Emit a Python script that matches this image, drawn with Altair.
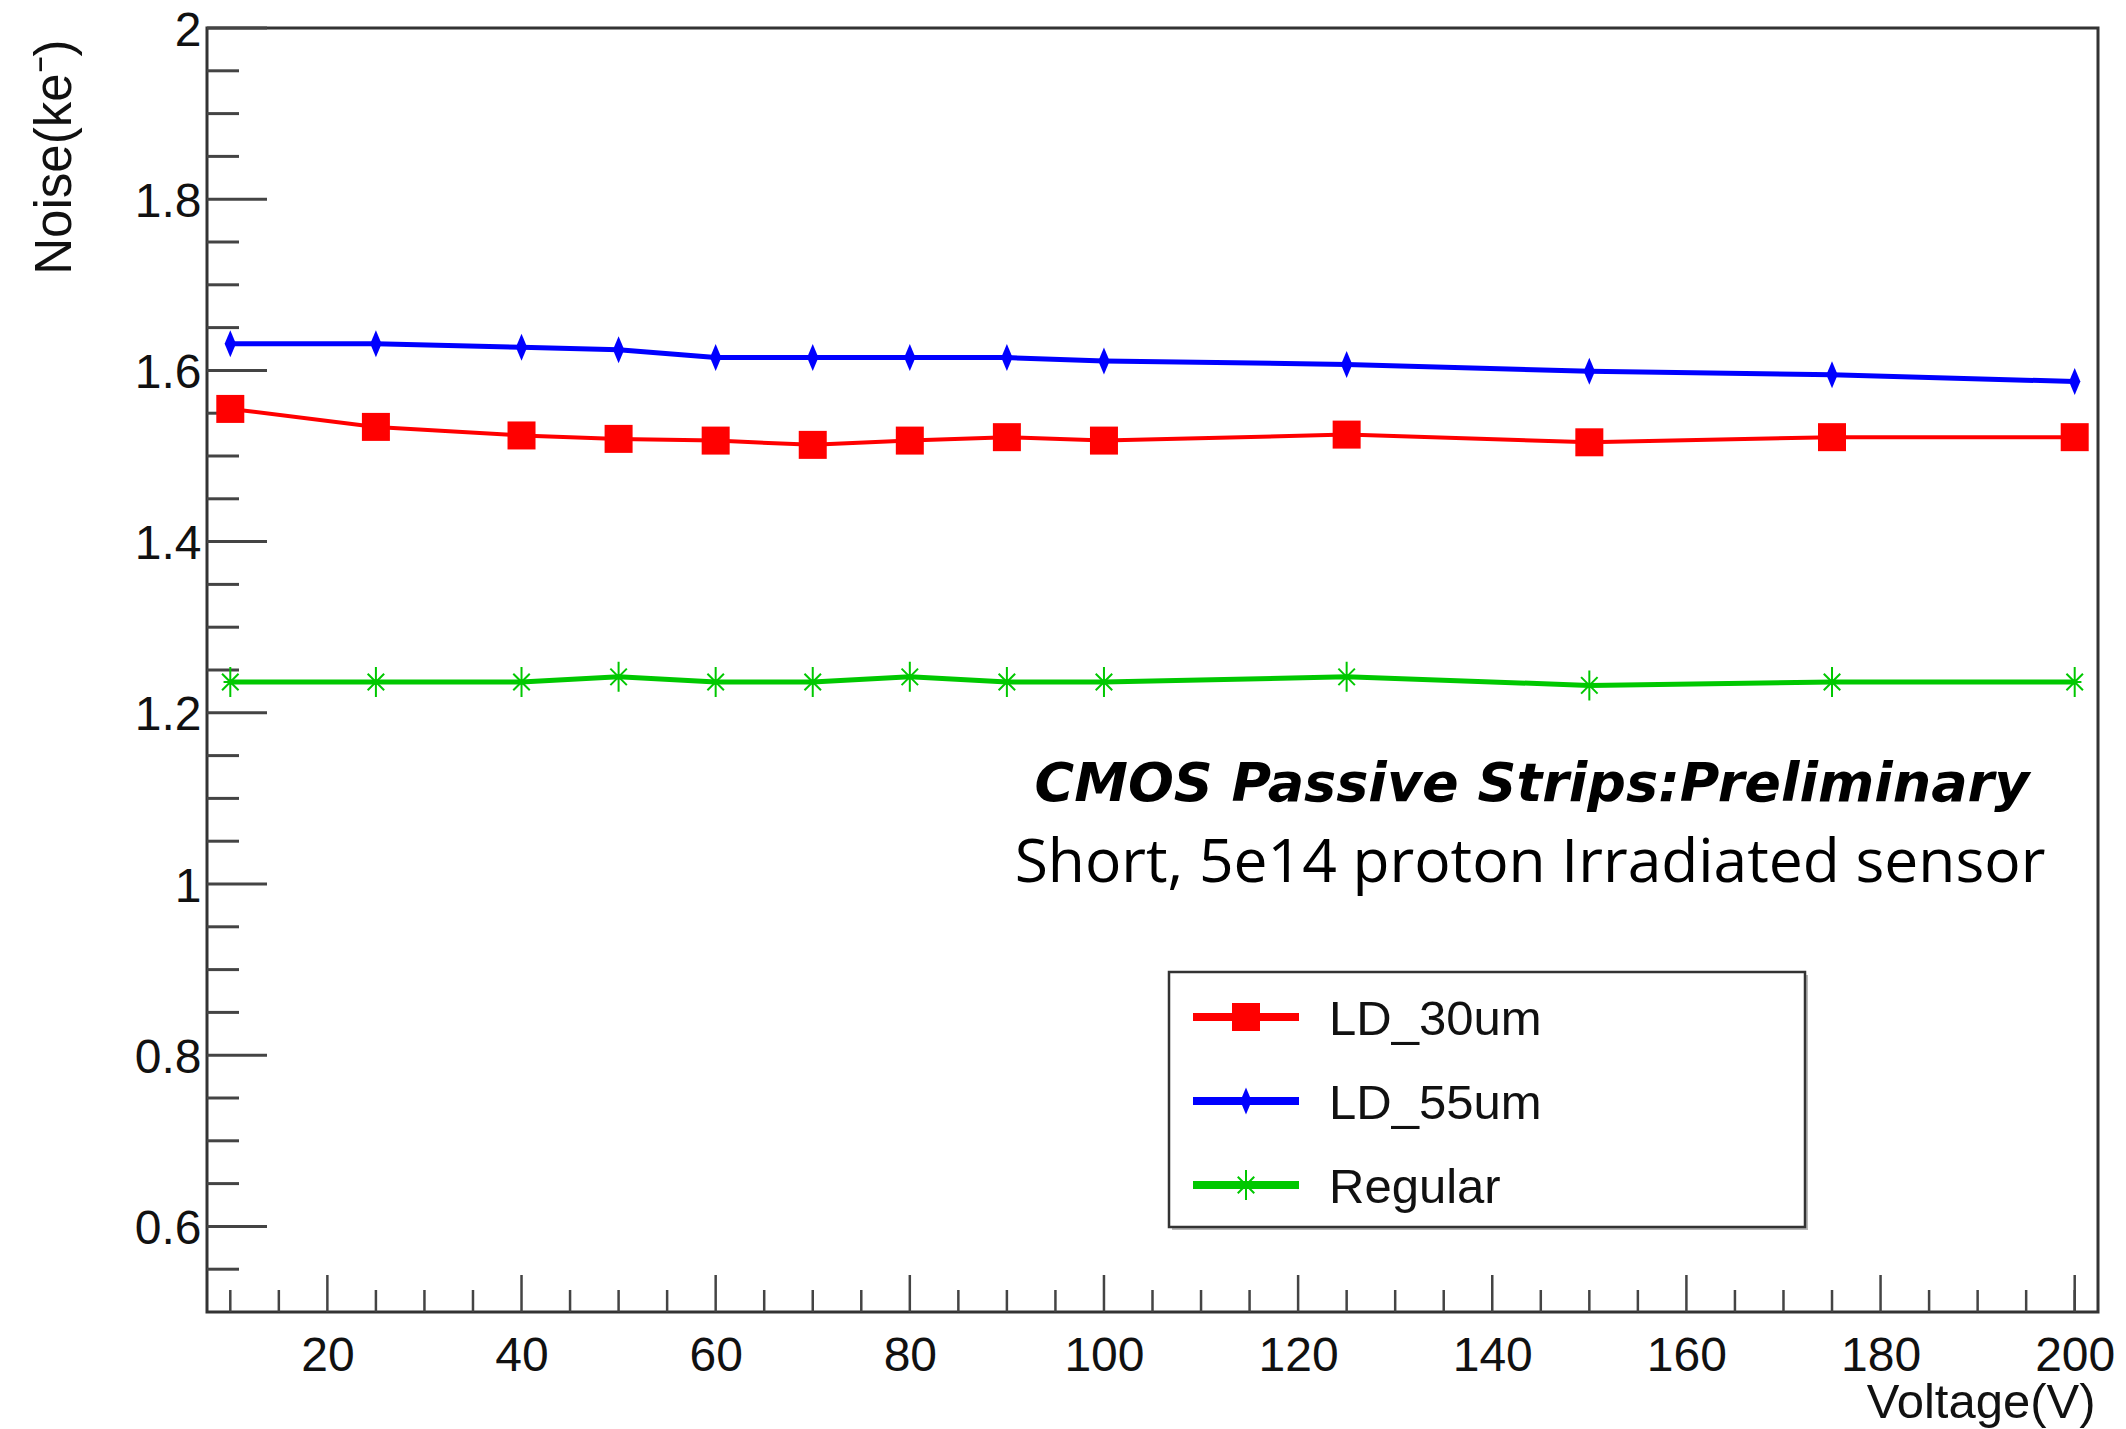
import altair as alt
import pandas as pd

# ---------------- data ----------------
voltage = [10, 25, 40, 50, 60, 70, 80, 90, 100, 125, 150, 175, 200]
ld_30um = [1.555, 1.534, 1.524, 1.520, 1.518, 1.513, 1.518, 1.522, 1.518, 1.525, 1.516, 1.522, 1.522]
ld_55um = [1.631, 1.631, 1.627, 1.624, 1.615, 1.615, 1.615, 1.615, 1.611, 1.607, 1.599, 1.595, 1.587]
regular = [1.236, 1.236, 1.236, 1.242, 1.236, 1.236, 1.242, 1.236, 1.236, 1.242, 1.232, 1.236, 1.236]

series_names = ["LD_30um", "LD_55um", "Regular"]
series_colors = ["#ff0000", "#0000ff", "#00c800"]

x_major = [20, 40, 60, 80, 100, 120, 140, 160, 180, 200]
x_minor = [10, 15, 25, 30, 35, 45, 50, 55, 65, 70, 75, 85, 90, 95, 105, 110, 115,
           125, 130, 135, 145, 150, 155, 165, 170, 175, 185, 190, 195, 200]
y_major = [0.6, 0.8, 1.0, 1.2, 1.4, 1.6, 1.8, 2.0]
y_minor = [0.55, 0.65, 0.7, 0.75, 0.85, 0.9, 0.95, 1.05, 1.1, 1.15, 1.25, 1.3, 1.35,
           1.45, 1.5, 1.55, 1.65, 1.7, 1.75, 1.85, 1.9, 1.95]

title_line1 = "CMOS  Passive Strips:Preliminary"
title_line2 = "Short, 5e14 proton Irradiated sensor"
x_title = "Voltage(V)"
y_title = "Noise(ke\u207b)"

# ---------------- layout / style ----------------
W, H = 1891, 1284
FONT = "Liberation Sans"
INK = "#111111"
AXC = "#444444"

rows = []
for name, vals in zip(series_names, [ld_30um, ld_55um, regular]):
    for v, n in zip(voltage, vals):
        rows.append({"series": name, "voltage": v, "noise": n})
df = pd.DataFrame(rows)

xscale = alt.Scale(domain=[7.6, 202.4], nice=False, zero=False)
yscale = alt.Scale(domain=[0.5, 2.0], nice=False, zero=False)

xaxis = alt.Axis(values=x_major, format="d", ticks=False, domain=False, grid=False,
                 labelFont=FONT, labelFontSize=48, labelColor=INK, labelPadding=20,
                 labelFlush=False, labelOverlap=False,
                 title=x_title, titleFont=FONT, titleFontSize=49, titleFontWeight="normal",
                 titleColor=INK, titleX=1888, titleY=105, titleAlign="right",
                 titleBaseline="alphabetic")
yaxis = alt.Axis(values=y_major, format="~g", ticks=False, domain=False, grid=False,
                 labelFont=FONT, labelFontSize=48, labelColor=INK, labelPadding=6,
                 labelOffset=3, labelFlush=False, labelOverlap=False,
                 title=y_title, titleFont=FONT, titleFontSize=51, titleFontWeight="normal",
                 titleColor=INK, titleAngle=270, titleX=-137, titleY=11,
                 titleAlign="right", titleBaseline="alphabetic")


def X():
    return alt.X("voltage:Q", scale=xscale, axis=xaxis)


def Y():
    return alt.Y("noise:Q", scale=yscale, axis=yaxis)


layers = []

# axis ticks (inside the frame, ROOT style)
layers.append(alt.Chart(pd.DataFrame({"noise": y_major})).mark_rule(color=AXC, strokeWidth=3)
              .encode(y=Y(), x=alt.value(0), x2=alt.value(60)))
layers.append(alt.Chart(pd.DataFrame({"noise": y_minor})).mark_rule(color=AXC, strokeWidth=3)
              .encode(y=Y(), x=alt.value(0), x2=alt.value(32)))
layers.append(alt.Chart(pd.DataFrame({"voltage": x_major})).mark_rule(color=AXC, strokeWidth=2.5)
              .encode(x=X(), y=alt.value(H), y2=alt.value(H - 37)))
layers.append(alt.Chart(pd.DataFrame({"voltage": x_minor})).mark_rule(color=AXC, strokeWidth=2.5)
              .encode(x=X(), y=alt.value(H), y2=alt.value(H - 22)))

line_widths = [4, 5, 5]
diamond = "M0,-1L0.42,0L0,1L-0.42,0Z"
asterisk = "M0,-1L0,1M-0.55,-0.55L0.55,0.55M-0.55,0.55L0.55,-0.55M-0.45,0L0.45,0"


def marker(chart, i):
    if i == 0:
        return chart.mark_point(shape="square", filled=True, size=784, color=series_colors[0], opacity=1)
    if i == 1:
        return chart.mark_point(shape=diamond, filled=True, size=729, color=series_colors[1], opacity=1)
    return chart.mark_point(shape=asterisk, filled=False, size=900, color=series_colors[2],
                            strokeWidth=2, opacity=1)


for i, name in enumerate(series_names):
    base = alt.Chart(df).transform_filter(alt.datum.series == name)
    layers.append(base.mark_line(color=series_colors[i], strokeWidth=line_widths[i])
                  .encode(x=X(), y=Y()))
for i, name in enumerate(series_names):
    base = alt.Chart(df).transform_filter(alt.datum.series == name)
    layers.append(marker(base, i).encode(x=X(), y=Y()))

# annotation text
layers.append(alt.Chart(pd.DataFrame({"t": [title_line1]}))
              .mark_text(font="DejaVu Sans", fontSize=54, fontWeight="bold", fontStyle="italic",
                         color="#000000", align="center", baseline="middle")
              .encode(text="t:N", x=alt.value(1325), y=alt.value(757)))
layers.append(alt.Chart(pd.DataFrame({"t": [title_line2]}))
              .mark_text(font="Open Sans", fontSize=60.5, color="#000000",
                         align="center", baseline="middle")
              .encode(text="t:N", x=alt.value(1323), y=alt.value(836)))

# legend box
LX0, LX1, LY0, LY1 = 962, 1598, 944, 1199
layers.append(alt.Chart(pd.DataFrame({"a": [0]})).mark_rect(fill="#888888", opacity=0.6)
              .encode(x=alt.value(LX0 + 3), x2=alt.value(LX1 + 3), y=alt.value(LY0 + 3), y2=alt.value(LY1 + 3)))
layers.append(alt.Chart(pd.DataFrame({"a": [0]})).mark_rect(fill="white", stroke="#333333", strokeWidth=2.5)
              .encode(x=alt.value(LX0), x2=alt.value(LX1), y=alt.value(LY0), y2=alt.value(LY1)))
for i, name in enumerate(series_names):
    ry = 989 + i * 84
    one = alt.Chart(pd.DataFrame({"series": [name]}))
    layers.append(one.mark_rule(color=series_colors[i], strokeWidth=8)
                  .encode(x=alt.value(986), x2=alt.value(1092), y=alt.value(ry)))
    layers.append(marker(one, i).encode(x=alt.value(1039), y=alt.value(ry)))
    layers.append(one.mark_text(font=FONT, fontSize=49, color=INK, align="left", baseline="middle")
                  .encode(text="series:N", x=alt.value(1122), y=alt.value(ry + 3)))

chart = (alt.layer(*layers)
         .properties(width=W, height=H, autosize="none",
                     padding={"left": 199, "top": 20, "right": 20, "bottom": 118})
         .configure_view(stroke="#333333", strokeWidth=3))

chart.save("out.html", embed_options={"renderer": "svg", "actions": False})
